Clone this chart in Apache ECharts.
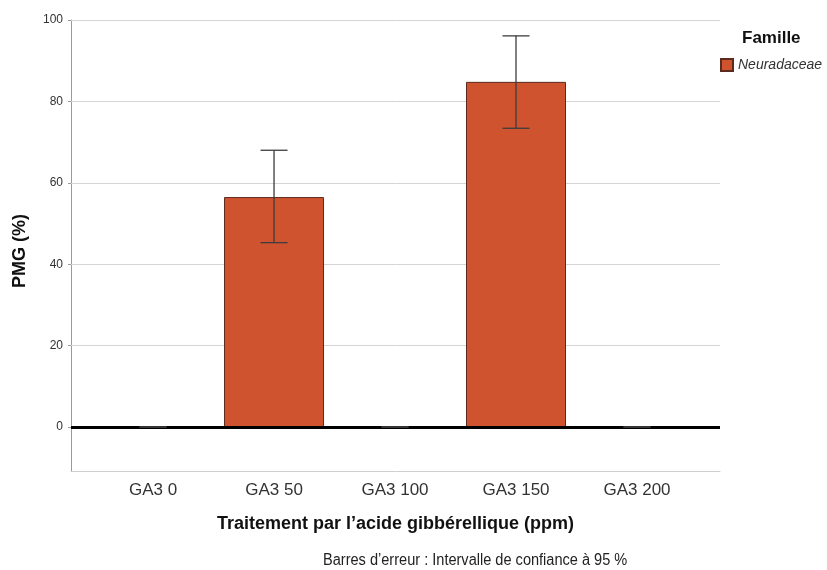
<!DOCTYPE html>
<html>
<head>
<meta charset="utf-8">
<script src="https://cdn.jsdelivr.net/npm/echarts@6/dist/echarts.min.js"></script>
<style>
  html, body { margin: 0; padding: 0; background: #fff; }
  #chart { width: 827px; height: 570px; }
</style>
</head>
<body>
<div id="chart"></div>
<script>
const categories = ['GA3 0', 'GA3 50', 'GA3 100', 'GA3 150', 'GA3 200'];
const pmgValues = [0, 56.5, 0, 84.8, 0];
const ciLow = [0, 45.3, 0, 73.4, 0];
const ciHigh = [0, 68.0, 0, 96.1, 0];
const yTicks = [0, 20, 40, 60, 80, 100];
const gridValues = [20, 40, 60, 80, 100];
const seriesName = 'Neuradaceae';

const FONT = "'Liberation Sans', Arial, sans-serif";
const chart = echarts.init(document.getElementById('chart'));

chart.setOption({
  backgroundColor: '#ffffff',
  animation: false,
  grid: { left: 71, right: 107, top: 20, bottom: 99 },
  xAxis: {
    type: 'value',
    min: -0.678,
    max: 4.686,
    splitLine: { show: false },
    axisTick: { show: false },
    axisLine: { show: true, onZero: false, lineStyle: { color: '#cfcfcf', width: 1 } },
    axisLabel: {
      customValues: categories.map((c, i) => i),
      formatter: v => categories[Math.round(v)],
      fontFamily: FONT, fontSize: 17, color: '#333', margin: 11
    },
    name: 'Traitement par l\u2019acide gibb\u00e9rellique (ppm)',
    nameLocation: 'middle',
    nameGap: 44,
    nameTextStyle: { fontFamily: FONT, fontSize: 18, fontWeight: 'bold', color: '#111' }
  },
  yAxis: {
    type: 'value',
    min: -10.8,
    max: 100,
    splitLine: { show: false },
    axisLine: { show: true, onZero: false, lineStyle: { color: '#9a9a9a', width: 1 } },
    axisTick: { show: true, customValues: yTicks, length: 3, lineStyle: { color: '#9a9a9a' } },
    axisLabel: {
      customValues: yTicks,
      fontFamily: FONT, fontSize: 12, color: '#333', margin: 8
    }
  },
  legend: {
    data: [seriesName],
    left: 715, top: 53,
    icon: 'rect', itemWidth: 12, itemHeight: 12,
    textStyle: { fontFamily: FONT, fontSize: 14, fontStyle: 'italic', color: '#333' },
    selectedMode: false
  },
  graphic: [
    { type: 'text', x: 20, y: 251, rotation: Math.PI / 2,
      style: { text: 'PMG (%)', font: "bold 18px 'Liberation Sans', Arial, sans-serif", fill: '#111',
               align: 'center', verticalAlign: 'middle' } },
    { type: 'text', left: 742, top: 30,
      style: { text: 'Famille', font: "bold 17px 'Liberation Sans', Arial, sans-serif", fill: '#111' } },
    { type: 'text', x: 323, y: 561, scaleX: 0.91,
      style: { text: 'Barres d\u2019erreur : Intervalle de confiance \u00e0 95 %',
               font: "16px 'Liberation Sans', Arial, sans-serif", fill: '#222',
               verticalAlign: 'middle' } }
  ],
  series: [
    {
      type: 'line', data: [], silent: true,
      markLine: {
        z: 1,
        silent: true, symbol: 'none', label: { show: false },
        lineStyle: { color: '#d4d4d4', width: 1, type: 'solid' },
        data: gridValues.map(v => ({ yAxis: v }))
      }
    },
    {
      name: seriesName,
      type: 'bar', z: 3,
      barWidth: 100,
      data: categories.map((c, i) => [i, pmgValues[i]]),
      itemStyle: { color: '#D0532F', borderColor: '#5b2b1f', borderWidth: 1 }
    },
    {
      type: 'line', data: [], silent: true,
      markLine: {
        z: 8,
        silent: true, symbol: 'none', label: { show: false },
        lineStyle: { color: '#000', width: 3, type: 'solid' },
        data: [{ yAxis: 0 }]
      }
    },
    {
      type: 'custom', z: 10, silent: true,
      data: categories.map((c, i) => [i, ciLow[i], ciHigh[i]]),
      renderItem: function (params, api) {
        const x = api.value(0);
        const lo = api.coord([x, api.value(1)]);
        const hi = api.coord([x, api.value(2)]);
        const hw = 13.5;
        const style = { stroke: '#3d3d3d', lineWidth: 1.3 };
        return {
          type: 'group',
          children: [
            { type: 'line', shape: { x1: lo[0], y1: lo[1], x2: hi[0], y2: hi[1] }, style: style },
            { type: 'line', shape: { x1: hi[0] - hw, y1: hi[1], x2: hi[0] + hw, y2: hi[1] }, style: style },
            { type: 'line', shape: { x1: lo[0] - hw, y1: lo[1], x2: lo[0] + hw, y2: lo[1] }, style: style }
          ]
        };
      }
    }
  ]
});
</script>
</body>
</html>
